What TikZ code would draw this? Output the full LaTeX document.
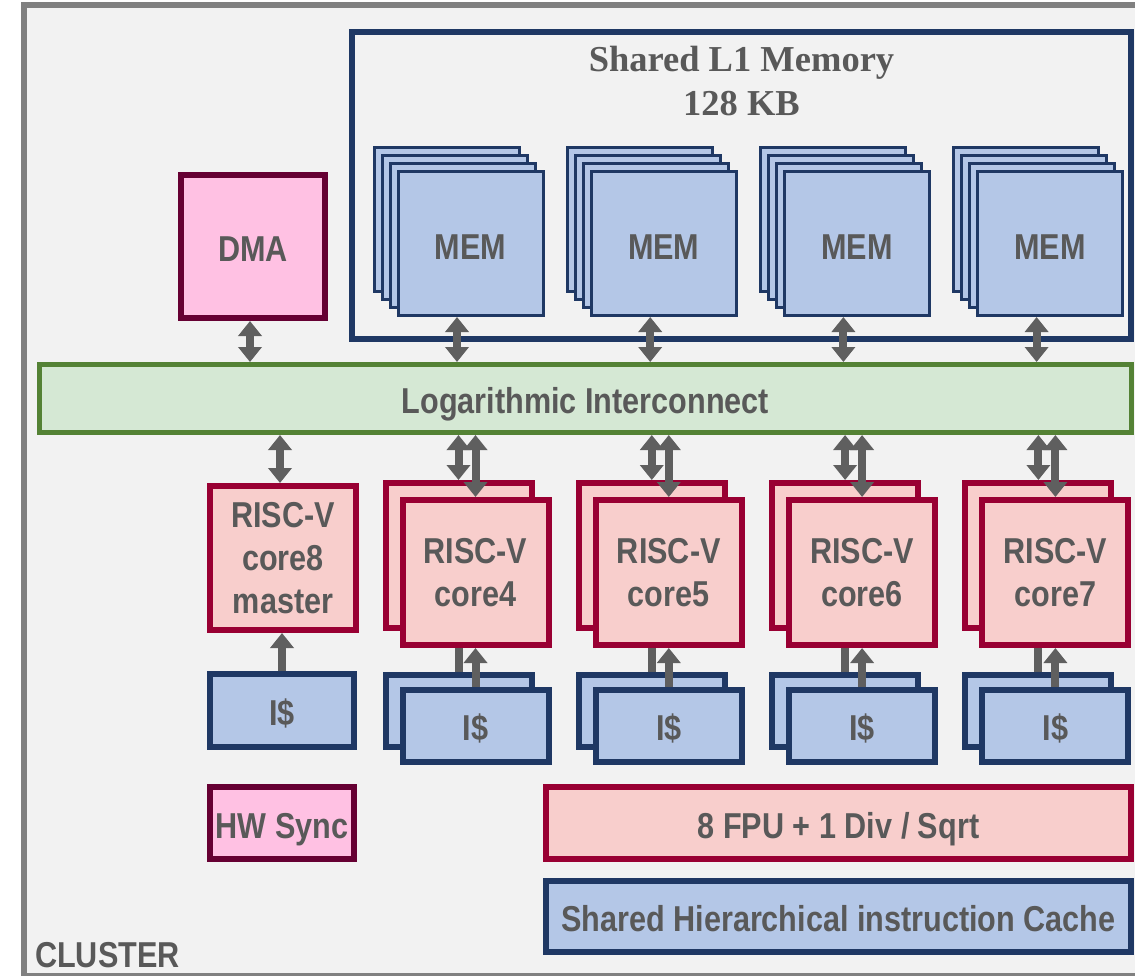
\documentclass[tikz,border=0pt]{standalone}
\usepackage{fontspec}
\setmainfont{Liberation Sans}[FakeStretch=0.85]
\newfontfamily\titlefont{Liberation Serif}
\usetikzlibrary{arrows.meta}

\definecolor{txt}{HTML}{595959}
\definecolor{arrowgray}{HTML}{5F5F5F}
\definecolor{navy}{HTML}{1F3864}
\definecolor{memfill}{HTML}{B4C7E7}
\definecolor{corered}{HTML}{990033}
\definecolor{corefill}{HTML}{F8CECC}
\definecolor{maroon}{HTML}{660033}
\definecolor{pinkfill}{HTML}{FFC1E3}
\definecolor{icgreen}{HTML}{548235}
\definecolor{icfill}{HTML}{D5E8D4}
\definecolor{clbg}{HTML}{F2F2F2}
\definecolor{clborder}{HTML}{808080}

\tikzset{
 lbl/.style={text=txt, font=\bfseries\fontsize{36}{43}\selectfont, align=center, inner sep=0pt},
 oneline/.style={text height=29pt, text depth=0pt},
 memblk/.style={lbl, draw=navy, fill=memfill, line width=3pt, minimum width=145pt, minimum height=144pt},
 coreblk/.style={lbl, draw=corered, fill=corefill, line width=6pt, minimum width=146pt, minimum height=145pt, text depth=0pt},
 icblk/.style={lbl, oneline, draw=navy, fill=memfill, line width=6pt, minimum width=146pt, minimum height=72pt},
 pinkblk/.style={lbl, oneline, draw=maroon, fill=pinkfill, line width=6pt},
 dblarrow/.style={draw=arrowgray, line width=8pt, {Triangle[width=23pt,length=15pt]}-{Triangle[width=23pt,length=15pt]}},
 uparrow/.style={draw=arrowgray, line width=8pt, -{Triangle[width=23pt,length=15pt]}},
}

\begin{document}
\begin{tikzpicture}[x=1pt,y=-1pt]
\useasboundingbox (0,0) rectangle (1135,975);
\fill[white] (0,0) rectangle (1135,975);
% cluster background
\draw[clborder, fill=clbg, line width=6pt] (24,5) rectangle (1160,976);
\node[lbl, anchor=base west] (cluster) at (35,967) {CLUSTER};

% shared L1 memory
\node[draw=navy, line width=6pt, minimum width=779pt, minimum height=307pt, inner sep=0pt] (l1) at (741.5,185.5) {};
\node[text=txt, font=\titlefont\bfseries\fontsize{36.5}{43.5}\selectfont, anchor=base, inner sep=0pt] (l1t1) at (741.5,71.5) {Shared L1 Memory};
\node[text=txt, font=\titlefont\bfseries\fontsize{36.5}{43.5}\selectfont, anchor=base, inner sep=0pt] (l1t2) at (741.5,115) {128 KB};

\foreach \i in {0,...,3}{
  \pgfmathsetmacro\fx{470.5+193.2*\i}
  \foreach \k in {3,2,1}{
    \pgfmathsetmacro\off{8*\k}
    \node[memblk] (mem\i-\k) at (\fx-\off,243.5-\off) {};
  }
  \node[memblk, oneline, text height=31pt] (mem\i) at (\fx,243.5) {MEM};
}

% DMA
\node[pinkblk, minimum width=144pt, minimum height=143pt] (dma) at (253,246.5) {DMA};

% interconnect
\node[lbl, oneline, draw=icgreen, fill=icfill, line width=5pt, minimum width=1092pt, minimum height=68pt] (ic) at (585.5,398.5) {Logarithmic Interconnect};

% master core
\node[coreblk, minimum height=144pt] (c8) at (283,558) {RISC-V\\core8\\master};
\node[icblk, minimum width=144pt, minimum height=73pt] (i8) at (282,710.5) {I\$};

% core stacks
\foreach \i in {4,...,7}{
  \pgfmathsetmacro\fx{475.5+193.3*(\i-4)}
  \node[coreblk] (cb\i) at (\fx-17,555.5) {};
  \node[icblk] (ib\i) at (\fx-17,711) {};
  \draw[uparrow] (ib\i.north) -- (ib\i.north |- cb\i.south);
  \node[coreblk] (cf\i) at (\fx,572.5) {RISC-V\\core\i};
  \node[icblk] (if\i) at (\fx,725.5) {I\$};
}

% HW sync, FPU, cache
\node[pinkblk, text height=31pt, minimum width=144pt, minimum height=72pt] (hw) at (282,823) {HW Sync};
\node[lbl, oneline, text height=31pt, draw=corered, fill=corefill, line width=6pt, minimum width=585pt, minimum height=72pt] (fpu) at (838.5,823) {8 FPU + 1 Div / Sqrt};
\node[lbl, oneline, draw=navy, fill=memfill, line width=6pt, minimum width=585pt, minimum height=71pt] (cache) at (838.5,916.5) {Shared Hierarchical instruction Cache};

% arrows
\coordinate (dmaa) at ([xshift=-3pt]dma.south);
\draw[dblarrow] (dmaa) -- (dmaa |- ic.north);
\foreach \i in {0,...,3}{
  \coordinate (ma\i) at ([xshift=-13.5pt]mem\i.south);
  \draw[dblarrow] (ma\i) -- (ma\i |- ic.north);
}
\coordinate (c8a) at ([xshift=-3pt]c8.north);
\draw[dblarrow] (c8a |- ic.south) -- (c8a);
\draw[uparrow] (i8.north) -- (i8.north |- c8.south);
\foreach \i in {4,...,7}{
  \draw[dblarrow] (cb\i.north |- ic.south) -- (cb\i.north);
  \draw[dblarrow] (cf\i.north |- ic.south) -- (cf\i.north);
  \draw[uparrow] (if\i.north) -- (if\i.north |- cf\i.south);
}
\end{tikzpicture}
\end{document}
